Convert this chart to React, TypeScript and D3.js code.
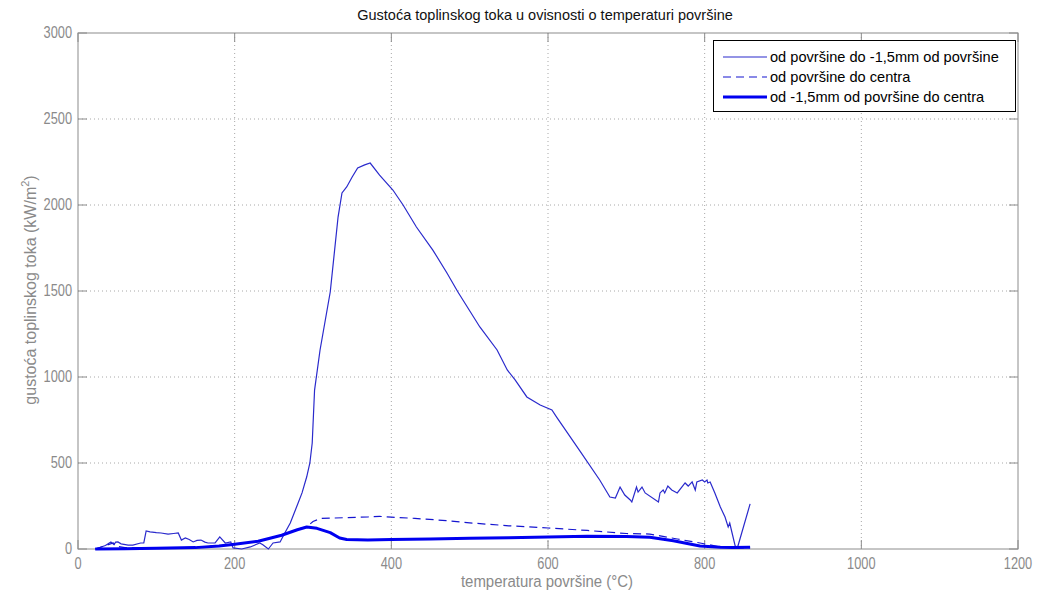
import React from "react";
import * as d3 from "d3";

const xTicks = [0, 200, 400, 600, 800, 1000, 1200];
const yTicks = [0, 500, 1000, 1500, 2000, 2500, 3000];

const title = "Gustoća toplinskog toka u ovisnosti o temperaturi površine";
const xLabel = "temperatura površine (°C)";
const legendLabels = [
  "od površine do -1,5mm od površine",
  "od površine do centra",
  "od -1,5mm od površine do centra",
];

// series 1: thin solid
const thinX = [22, 35, 42, 46, 48, 51, 55, 64, 70, 80, 84, 87, 92, 100, 106, 115, 122, 128, 132, 137, 142, 147, 152, 157, 162, 166, 175, 181, 188, 195, 198, 209, 220, 232, 236, 243, 249, 258, 264, 271, 275, 281, 286, 292, 296, 299, 302, 309, 322, 332, 337, 343, 350, 357, 366, 373, 385, 402, 415, 432, 453, 471, 485, 513, 535, 548, 558, 573, 590, 605, 611, 640, 666, 679, 686, 692, 698, 705, 707, 713, 715, 720, 724, 741, 743, 747, 749, 753, 758, 765, 775, 779, 784, 788, 790, 797, 800, 803, 804, 807, 813, 820, 826, 830, 832, 835, 839, 842, 858];
const thinY = [0, 20, 41, 25, 40, 41, 30, 23, 23, 35, 35, 105, 100, 95, 93, 87, 90, 93, 52, 64, 55, 41, 50, 52, 40, 35, 35, 70, 35, 41, 6, 0, 12, 35, 25, 0, 35, 41, 93, 151, 198, 267, 326, 420, 500, 616, 924, 1157, 1494, 1930, 2070, 2105, 2163, 2215, 2233, 2244, 2174, 2087, 2000, 1872, 1738, 1605, 1494, 1291, 1157, 1041, 983, 884, 837, 808, 767, 575, 401, 302, 296, 360, 314, 285, 273, 360, 331, 360, 326, 273, 326, 343, 326, 366, 343, 326, 384, 366, 390, 343, 390, 401, 390, 401, 384, 390, 326, 244, 186, 128, 151, 93, 17, 10, 262];

// series 2: dashed
const dashX = [22, 45, 50, 60, 100, 150, 200, 230, 260, 280, 292, 300, 310, 340, 370, 385, 400, 430, 470, 500, 550, 600, 650, 700, 730, 765, 794, 820, 840, 858];
const dashY = [0, 35, 15, 8, 5, 10, 28, 45, 80, 115, 128, 160, 178, 182, 186, 190, 185, 178, 165, 152, 135, 122, 108, 90, 87, 58, 35, 12, 5, 8];

// series 3: thick solid
const thickX = [22, 60, 100, 150, 180, 200, 230, 260, 280, 292, 305, 322, 334, 343, 370, 400, 450, 500, 550, 600, 650, 700, 730, 760, 781, 794, 820, 836, 858];
const thickY = [0, 2, 4, 8, 18, 28, 45, 80, 112, 128, 120, 95, 64, 55, 52, 55, 58, 62, 66, 70, 74, 72, 68, 48, 29, 17, 10, 8, 10];

const W = 1037;
const H = 595;
const L = 78, R = 1018, T = 33, B = 549;

export default function App() {
  const x = d3.scaleLinear().domain([0, 1200]).range([L, R]);
  const y = d3.scaleLinear().domain([0, 3000]).range([B, T]);
  const line = d3
    .line<[number, number]>()
    .x((d) => x(d[0]))
    .y((d) => y(d[1]));
  const zip = (a: number[], b: number[]) => a.map((v, i) => [v, b[i]] as [number, number]);

  const axisColor = "#8c8c8c";
  const textColor = "#8a8a8a";
  const gridColor = "#a8a8a8";
  const font = "'Liberation Sans', Arial, sans-serif";

  return (
    <svg
      width={W}
      height={H}
      style={{ position: "absolute", left: 0, top: 0, background: "#fff" }}
      fontFamily={font}
    >
      <rect x={0} y={0} width={W} height={H} fill="#fff" />
      {/* grid */}
      {xTicks.slice(1, -1).map((t) => (
        <line key={"gx" + t} x1={x(t)} x2={x(t)} y1={T} y2={B} stroke={gridColor} strokeWidth={1} strokeDasharray="1,3" />
      ))}
      {yTicks.slice(1, -1).map((t) => (
        <line key={"gy" + t} x1={L} x2={R} y1={y(t)} y2={y(t)} stroke={gridColor} strokeWidth={1} strokeDasharray="1,3" />
      ))}
      {/* ticks */}
      {xTicks.map((t) => (
        <g key={"tx" + t}>
          <line x1={x(t)} x2={x(t)} y1={B} y2={B - 9} stroke={axisColor} />
          <line x1={x(t)} x2={x(t)} y1={T} y2={T + 9} stroke={axisColor} />
          <text
            transform={`translate(${x(t)},${B + 20}) scale(0.8,1)`}
            textAnchor="middle"
            fontSize={16}
            fill={textColor}
          >
            {t}
          </text>
        </g>
      ))}
      {yTicks.map((t) => (
        <g key={"ty" + t}>
          <line x1={L} x2={L + 9} y1={y(t)} y2={y(t)} stroke={axisColor} />
          <line x1={R} x2={R - 9} y1={y(t)} y2={y(t)} stroke={axisColor} />
          <text
            transform={`translate(${L - 6},${y(t) + 5}) scale(0.8,1)`}
            textAnchor="end"
            fontSize={16}
            fill={textColor}
          >
            {t}
          </text>
        </g>
      ))}
      {/* axes box */}
      <rect x={L} y={T} width={R - L} height={B - T} fill="none" stroke={axisColor} strokeWidth={1} />

      {/* series */}
      <g fill="none">
        <path d={line(zip(thinX, thinY)) || ""} stroke="#2a2acc" strokeWidth={1.2} />
        <path d={line(zip(dashX, dashY)) || ""} stroke="#1515d0" strokeWidth={1.2} strokeDasharray="8,5" />
        <path d={line(zip(thickX, thickY)) || ""} stroke="#0000f0" strokeWidth={3} strokeLinejoin="round" />
      </g>

      {/* title */}
      <text x={545} y={20} textAnchor="middle" fontSize={14.5} fill="#111">
        {title}
      </text>
      {/* x label */}
      <text transform={`translate(${547},${587}) scale(0.88,1)`} textAnchor="middle" fontSize={17} fill={textColor}>
        {xLabel}
      </text>
      {/* y label */}
      <text
        transform={`translate(${36},${290}) rotate(-90)`}
        textAnchor="middle"
        fontSize={16}
        fill={textColor}
      >
        gustoća toplinskog toka (kW/m
        <tspan fontSize={11} dy={-7}>2</tspan>
        <tspan dy={7}>)</tspan>
      </text>

      {/* legend */}
      <g>
        <rect x={713.5} y={40.5} width={302} height={71} fill="#fff" stroke="#000" strokeWidth={1} />
        {legendLabels.map((lab, i) => {
          const ly = 57 + i * 20;
          const styles = [
            { stroke: "#2a2acc", w: 1.2, dash: undefined },
            { stroke: "#1515d0", w: 1.2, dash: "8,5" },
            { stroke: "#0000f0", w: 3, dash: undefined },
          ][i];
          return (
            <g key={lab}>
              <line x1={723} x2={767} y1={ly} y2={ly} stroke={styles.stroke} strokeWidth={styles.w} strokeDasharray={styles.dash} />
              <text x={770} y={ly + 5} fontSize={14.6} fill="#000">
                {lab}
              </text>
            </g>
          );
        })}
      </g>
    </svg>
  );
}
